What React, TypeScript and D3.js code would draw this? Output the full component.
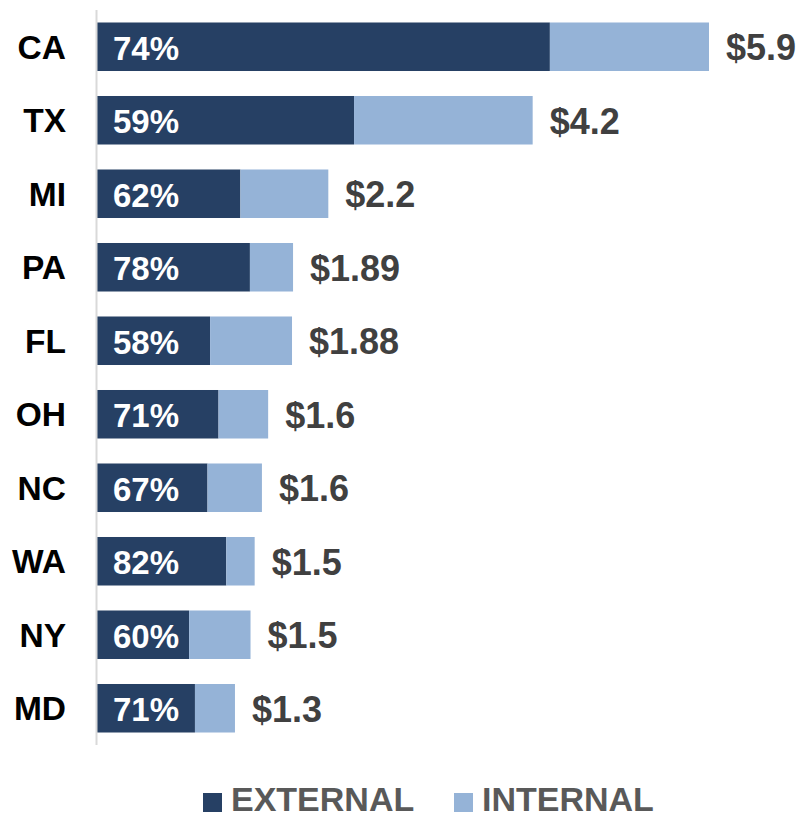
import React from "react";
import * as d3 from "d3";

const states = ["CA", "TX", "MI", "PA", "FL", "OH", "NC", "WA", "NY", "MD"];
const totals = [5.9, 4.2, 2.23, 1.89, 1.88, 1.65, 1.59, 1.52, 1.48, 1.33];
const totalLabels = ["$5.9", "$4.2", "$2.2", "$1.89", "$1.88", "$1.6", "$1.6", "$1.5", "$1.5", "$1.3"];
const externalShare = [74, 59, 62, 78, 58, 71, 67, 82, 60, 71];
const seriesNames = ["EXTERNAL", "INTERNAL"];

const W = 802;
const H = 814;
const DARK = "#264064";
const LIGHT = "#95b3d7";
const FONT = "Liberation Sans, Arial, sans-serif";

export default function App() {
  const x = d3.scaleLinear().domain([0, 5.9]).range([97, 709]);
  const y = d3.scaleBand<string>().domain(states).range([10, 745]).paddingInner(0.34).paddingOuter(0.17);
  const bw = y.bandwidth();

  return (
    <svg width={W} height={H} style={{ position: "absolute", left: 0, top: 0, background: "#fff" }}>
      {states.map((s, i) => {
        const y0 = y(s)!;
        const cy = y0 + bw / 2;
        const ext = (totals[i] * externalShare[i]) / 100;
        return (
          <g key={s}>
            <rect x={x(0)} y={y0} width={x(ext) - x(0)} height={bw} fill={DARK} />
            <rect x={x(ext)} y={y0} width={x(totals[i]) - x(ext)} height={bw} fill={LIGHT} />
            <text x={66} y={cy + 12} textAnchor="end" fontFamily={FONT} fontWeight="bold" fontSize={33.5} fill="#000">
              {s}
            </text>
            <text x={x(0) + 16} y={cy + 13} fontFamily={FONT} fontWeight="bold" fontSize={33} fill="#fff">
              {externalShare[i]}%
            </text>
            <text x={x(totals[i]) + 17} y={cy + 13.5} fontFamily={FONT} fontWeight="bold" fontSize={36} fill="#404040">
              {totalLabels[i]}
            </text>
          </g>
        );
      })}
      <line x1={96.5} x2={96.5} y1={10} y2={745} stroke="#d9d9d9" strokeWidth={2} />
      <g>
        <rect x={203} y={793} width={19} height={19} fill={DARK} />
        <text x={231} y={811} fontFamily={FONT} fontWeight="bold" fontSize={34} fill="#595959">
          {seriesNames[0]}
        </text>
        <rect x={454} y={793} width={19} height={19} fill={LIGHT} />
        <text x={482} y={811} fontFamily={FONT} fontWeight="bold" fontSize={34} fill="#595959">
          {seriesNames[1]}
        </text>
      </g>
    </svg>
  );
}
